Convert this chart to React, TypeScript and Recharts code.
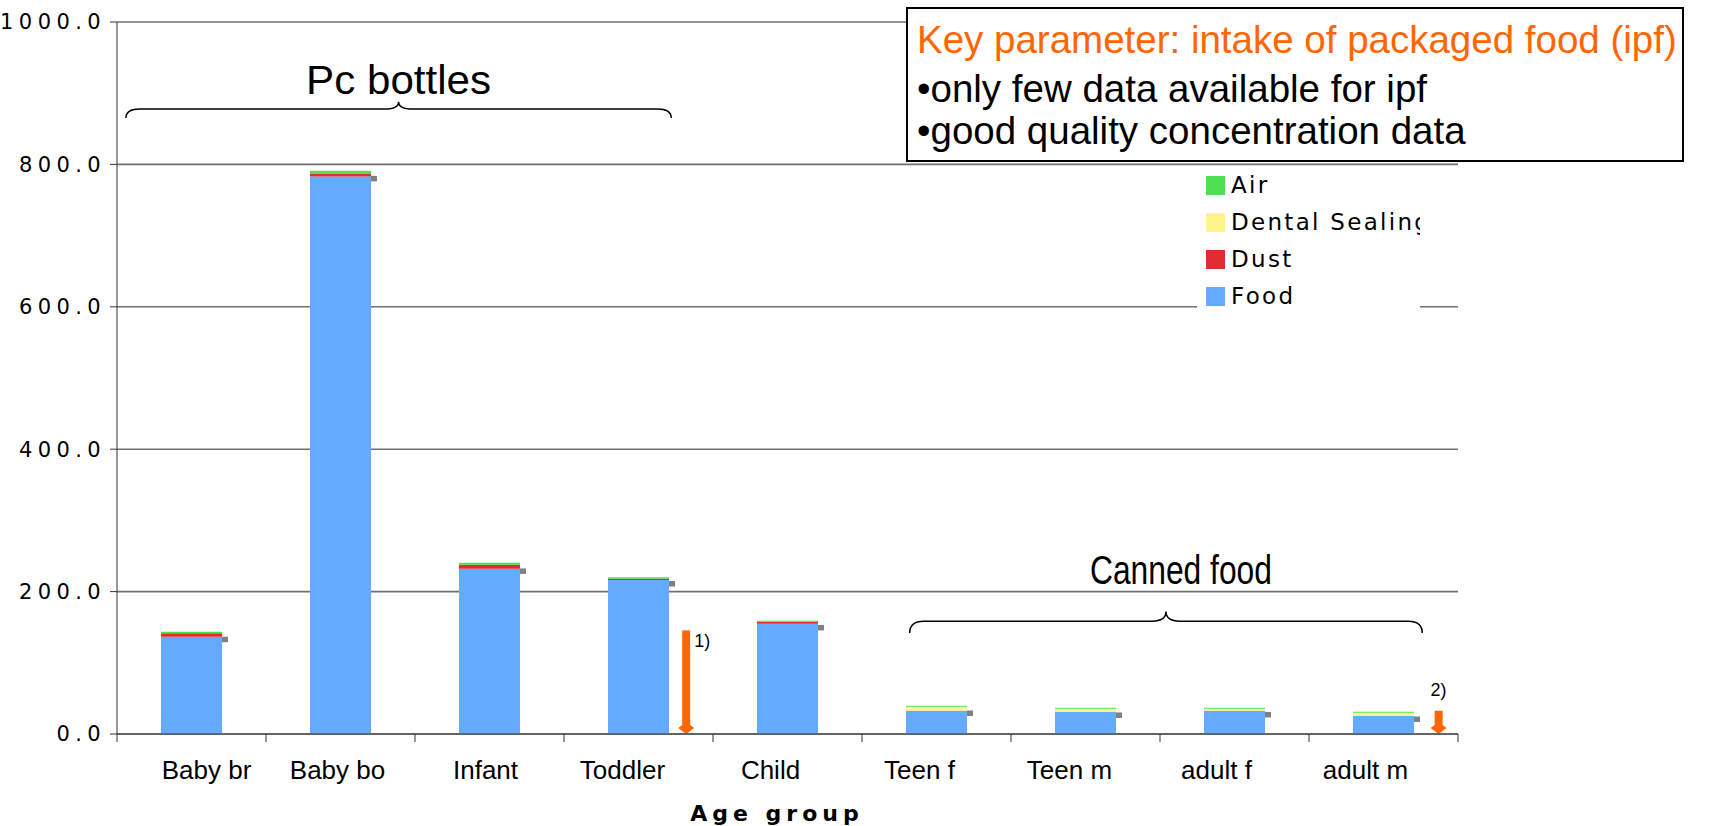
import React from "react";
import {
  Bar,
  CartesianGrid,
  ComposedChart,
  ReferenceArea,
  Scatter,
  XAxis,
  YAxis,
} from "recharts";

const categories = ["Baby br", "Baby bo", "Infant", "Toddler", "Child", "Teen f", "Teen m", "adult f", "adult m"];
const food = [136.7, 783.1, 232.2, 216.3, 154.9, 32.7, 31.3, 32.7, 25.7];
const dust = [4.7, 4.2, 5.6, 1.9, 2.8, 0, 0, 0, 0];
const dental = [0, 0, 0, 0, 0, 5.6, 4.2, 2.8, 4.2];
const air = [2.3, 3.8, 2.8, 2.0, 1.4, 1.4, 1.4, 1.4, 1.4];
const other = [132.7, 780, 228.7, 211, 149.3, 29.2, 26.4, 27.1, 20.8];
const yTicks = [0, 200, 400, 600, 800, 1000];
const xTicks = [0, 1, 2, 3, 4, 5, 6, 7, 8, 9];

// braces over groups of age classes
const braceNames = ["Pc bottles", "Canned food"];
const braceFrom = [0.06, 5.32];
const braceTo = [3.72, 8.76];
const braceLow = [865, 142];
const braceHigh = [888, 172];

// orange "not included" arrows
const arrowNotes = ["1)", "2)"];
const arrowAt = [3.82, 8.87];
const arrowTop = [145.5, 32.7];

const legendNames = ["Air", "Dental Sealing", "Dust", "Food"];
const legendColors = ["#4ee052", "#fff38c", "#e02d32", "#64aaff"];

const W = 1717;
const H = 826;
const M = { top: 22, right: 259, bottom: 32, left: 0 };
const Y_W = 117;
const HALF_BAND = (W - M.right - M.left - Y_W) / categories.length / 2;
// the exported chart places its category labels a bit unevenly
const labelNudge = [15, -3, -4, -16, -17, -17, -16, -18, -18];

const data = categories.map((c, i) => ({
  x: i + 0.5,
  name: c,
  food: food[i],
  dust: dust[i],
  dental: dental[i],
  air: air[i],
  other: other[i],
}));

const sans = "'Liberation Sans', Arial, sans-serif";
const verdana = "'DejaVu Sans', Verdana, sans-serif";

function XTick(props: any) {
  const { x, y, payload } = props;
  const i = payload.value;
  if (i >= categories.length) return null;
  return (
    <text x={x + HALF_BAND + labelNudge[i]} y={y + 35} textAnchor="middle" fontFamily={sans} fontSize={26} fill="#000">
      {categories[i]}
    </text>
  );
}

function braceShape(k: number) {
  return (p: any) => {
    const { x, y, width, height } = p;
    const mid = x + width / 2;
    const hm = y + height * 0.45;
    const r = 14;
    const d = `M${x},${y + height} Q${x},${hm} ${x + r},${hm} L${mid - r},${hm} Q${mid},${hm} ${mid},${y} Q${mid},${hm} ${mid + r},${hm} L${x + width - r},${hm} Q${x + width},${hm} ${x + width},${y + height}`;
    const dx = k === 0 ? 0 : 15;
    const dy = k === 0 ? 8 : 28;
    const len = k === 0 ? 185 : 182;
    return (
      <g>
        <path d={d} fill="none" stroke="#000" strokeWidth={1.5} />
        <text
          x={mid + dx - len / 2}
          y={y - dy}
          textLength={len}
          lengthAdjust="spacingAndGlyphs"
          fontFamily={sans}
          fontSize={41}
          fill="#000"
        >
          {braceNames[k]}
        </text>
      </g>
    );
  };
}

function arrowShape(k: number) {
  return (p: any) => {
    const { x, y, width, height } = p;
    const cx = x + width / 2;
    const bottom = y + height;
    const d = `M${cx - 8},${bottom - 6} L${cx},${bottom - 12} L${cx + 8},${bottom - 6} L${cx},${bottom} Z`;
    return (
      <g>
        <rect x={cx - 4} y={y} width={8} height={height - 8} fill="#ff6600" />
        <path d={d} fill="#ff6600" />
        {k === 0 ? (
          <text x={cx + 8} y={y + 17} fontFamily={sans} fontSize={18} fill="#000">
            {arrowNotes[k]}
          </text>
        ) : (
          <text x={cx} y={y - 15} textAnchor="middle" fontFamily={sans} fontSize={18} fill="#000">
            {arrowNotes[k]}
          </text>
        )}
      </g>
    );
  };
}

function markerShape(p: any) {
  const { cx, cy } = p;
  return <rect x={cx + 30.5} y={cy - 2.75} width={6} height={5.5} fill="#808080" />;
}

export default function App() {
  return (
    <div style={{ position: "absolute", left: 0, top: 0, width: W, height: H, background: "#fff", fontFamily: sans }}>
      <ComposedChart width={W} height={H} data={data} margin={M}>
        <CartesianGrid vertical={false} stroke="#707070" strokeWidth={1.6} />
        <XAxis
          dataKey="x"
          type="number"
          domain={[0, 9]}
          ticks={xTicks}
          interval={0}
          height={60}
          tickSize={8}
          stroke="#333"
          tick={<XTick />}
        />
        <YAxis
          domain={[0, 1000]}
          ticks={yTicks}
          width={Y_W}
          tickSize={7}
          tickMargin={4}
          stroke="#333"
          tickFormatter={(v: number) => v.toFixed(1)}
          tick={{ fontFamily: verdana, fontSize: 21, letterSpacing: 5.4, fill: "#000" }}
        />
        <Bar dataKey="food" name="Food" stackId="a" fill="#64aaff" barSize={61} isAnimationActive={false} />
        <Bar dataKey="dust" name="Dust" stackId="a" fill="#e02d32" barSize={61} isAnimationActive={false} />
        <Bar dataKey="dental" name="Dental Sealing" stackId="a" fill="#fff38c" barSize={61} isAnimationActive={false} />
        <Bar dataKey="air" name="Air" stackId="a" fill="#4ee052" barSize={61} isAnimationActive={false} />
        <Scatter dataKey="other" shape={markerShape} isAnimationActive={false} />
        {braceNames.map((n, k) => (
          <ReferenceArea
            key={n}
            x1={braceFrom[k]}
            x2={braceTo[k]}
            y1={braceLow[k]}
            y2={braceHigh[k]}
            ifOverflow="visible"
            shape={braceShape(k)}
          />
        ))}
        {arrowNotes.map((n, k) => (
          <ReferenceArea
            key={n}
            x1={arrowAt[k] - 0.02}
            x2={arrowAt[k] + 0.02}
            y1={0}
            y2={arrowTop[k]}
            ifOverflow="visible"
            shape={arrowShape(k)}
          />
        ))}
      </ComposedChart>

      <div
        style={{
          position: "absolute",
          left: 906,
          top: 7,
          width: 778,
          height: 155,
          boxSizing: "border-box",
          border: "2px solid #000",
          background: "#fff",
          paddingTop: 9,
          paddingLeft: 9,
          fontFamily: sans,
          fontSize: 38.5,
          lineHeight: "43.5px",
          whiteSpace: "nowrap",
          color: "#000",
        }}
      >
        <div style={{ color: "#ff6600" }}>Key parameter: intake of packaged food (ipf)</div>
        <div style={{ marginTop: 5 }}>•only few data available for ipf</div>
        <div style={{ marginTop: -1 }}>•good quality concentration data</div>
      </div>

      <div
        style={{
          position: "absolute",
          left: 1197,
          top: 168,
          width: 223,
          height: 146,
          background: "#fff",
          overflow: "hidden",
          fontFamily: verdana,
          fontSize: 23,
          letterSpacing: 2.3,
          color: "#000",
        }}
      >
        {legendNames.map((n, i) => (
          <div key={n} style={{ position: "absolute", left: 9, top: 8 + i * 37, height: 20, whiteSpace: "nowrap" }}>
            <span style={{ position: "absolute", left: 0, top: 0, width: 19, height: 19, background: legendColors[i] }} />
            <span style={{ position: "absolute", left: 25, top: -4, lineHeight: "27px" }}>{n}</span>
          </div>
        ))}
      </div>

      <div
        style={{
          position: "absolute",
          left: 627,
          top: 802,
          width: 300,
          textAlign: "center",
          fontFamily: verdana,
          fontWeight: "bold",
          fontSize: 22,
          letterSpacing: 5,
          lineHeight: "24px",
          color: "#000",
        }}
      >
        Age group
      </div>
    </div>
  );
}
